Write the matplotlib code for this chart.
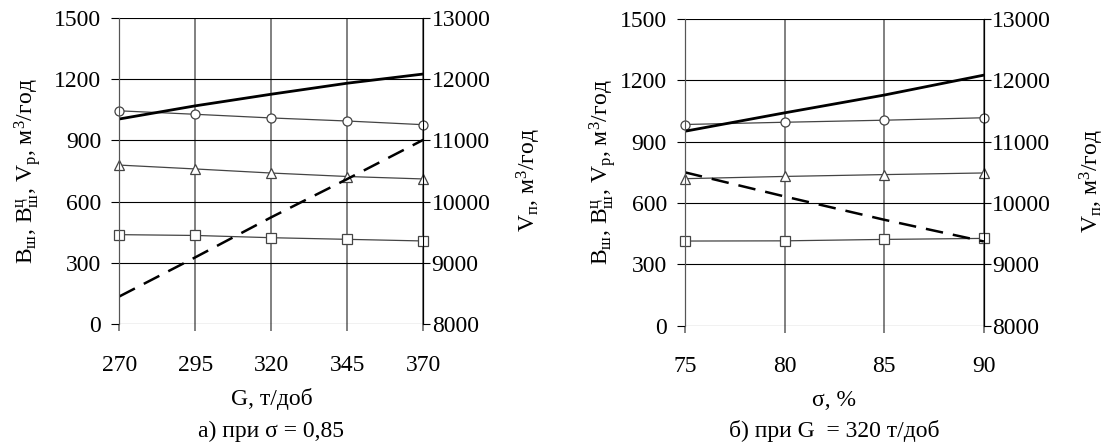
import matplotlib.pyplot as plt

plt.rcParams['font.family'] = ['Liberation Serif', 'DejaVu Serif']
plt.rcParams['mathtext.fontset'] = 'custom'
plt.rcParams['mathtext.rm'] = 'Liberation Serif'
plt.rcParams['mathtext.it'] = 'Liberation Serif'

# a) при sigma = 0,85
G = [270, 295, 320, 345, 370]
a_circle = [1045, 1028, 1010, 995, 977]
a_triangle = [779, 760, 740, 723, 711]
a_square = [438, 434, 423, 415, 407]
a_vp_solid = [11350, 11565, 11755, 11935, 12085]
a_vp_dash = [8450, 9090, 9745, 10370, 11010]

# б) при G = 320
sigma = [75, 80, 85, 90]
b_circle = [984, 995, 1005, 1017]
b_triangle = [719, 730, 739, 747]
b_square = [414, 415, 422, 427]
b_vp_solid = [11170, 11470, 11760, 12085]
b_vp_dash = [10500, 10107, 9727, 9373]

left_ticks = [0, 300, 600, 900, 1200, 1500]
right_ticks = [8000, 9000, 10000, 11000, 12000, 13000]

fs = 17
fig = plt.figure(figsize=(11.06, 4.48), dpi=100)

left_label = (r'B$_\mathrm{ш}$, B$_\mathrm{ш}^\mathrm{ц}$, V$_\mathrm{р}$, '
              r'м$^\mathrm{3}$/год')
right_label = r'V$_\mathrm{п}$, м$^\mathrm{3}$/год'


def panel(rect, x, circ, tri, sq, solid, dash, xlabel, caption, lx, rx, cap_y):
    ax = fig.add_axes(rect)
    ax2 = ax.twinx()
    thin = dict(color='#444444', lw=0.9, mfc='white', mec='#444444', mew=0.9,
                clip_on=False, zorder=3)
    ax.plot(x, circ, marker='o', ms=6.5, **thin)
    ax.plot(x, tri, marker='^', ms=7, **thin)
    ax.plot(x, sq, marker='s', ms=6.5, **thin)
    ax2.plot(x, solid, color='black', lw=2.0)
    ax2.plot(x, dash, color='black', lw=1.8, dashes=(7, 4))

    ax.set_xlim(x[0], x[-1])
    ax.set_xticks(x)
    ax.set_ylim(0, 1500)
    ax.set_yticks(left_ticks)
    ax2.set_ylim(8000, 13000)
    ax2.set_yticks(right_ticks)

    ax.grid(axis='y', color='black', lw=0.8)
    ax.grid(axis='x', color='#808080', lw=1.4)
    for a in (ax, ax2):
        a.spines['top'].set_visible(False)
        a.spines['bottom'].set_visible(False)
        a.spines['left'].set_color('#555555')
        a.spines['right'].set_color('black')
    ax.tick_params(axis='y', direction='out', length=6, width=0.8, labelsize=fs, pad=7)
    ax.tick_params(axis='x', direction='out', length=5, width=1.4, color='#808080',
                   labelsize=fs, pad=17)
    ax2.tick_params(axis='y', direction='out', length=5, width=0.8, labelsize=fs, pad=1)

    ax.set_ylabel(left_label, fontsize=fs)
    ax.yaxis.set_label_coords(lx, 0.5)
    ax2.set_ylabel(right_label, fontsize=fs)
    ax2.yaxis.set_label_coords(rx, 0.47)
    ax.set_xlabel(xlabel, fontsize=fs, labelpad=9)
    ax.text(0.5, cap_y, caption, transform=ax.transAxes, ha='center', va='center',
            fontsize=fs)
    return ax


panel([0.1079, 0.2768, 0.2749, 0.683], G, a_circle, a_triangle, a_square,
      a_vp_solid, a_vp_dash, 'G, т/доб', 'а) при σ = 0,85', -0.25, 1.30, -0.35)
panel([0.6193, 0.273, 0.2703, 0.6846], sigma, b_circle, b_triangle, b_square,
      b_vp_solid, b_vp_dash, 'σ, %', 'б) при G  = 320 т/доб', -0.225, 1.315, -0.342)

fig.savefig('out.png', dpi=100)
